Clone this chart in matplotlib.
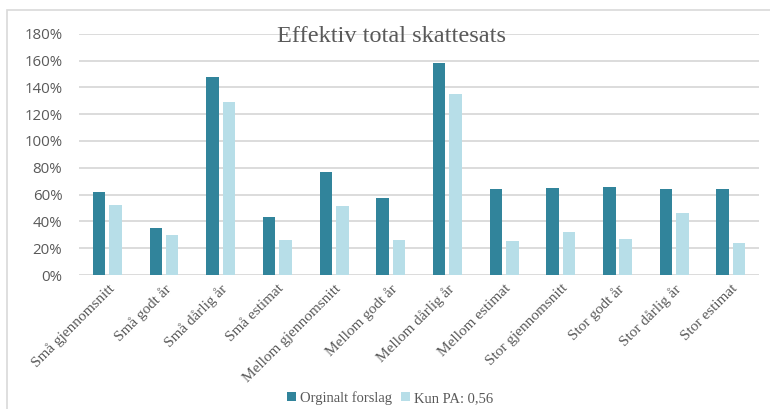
import numpy as np
import matplotlib.pyplot as plt
from matplotlib.patches import Rectangle
from matplotlib.ticker import PercentFormatter

categories = [
    "Små gjennomsnitt", "Små godt år", "Små dårlig år", "Små estimat",
    "Mellom gjennomsnitt", "Mellom godt år", "Mellom dårlig år", "Mellom estimat",
    "Stor gjennomsnitt", "Stor godt år", "Stor dårlig år", "Stor estimat",
]
orginalt = [0.62, 0.35, 1.48, 0.43, 0.77, 0.575, 1.58, 0.64, 0.65, 0.66, 0.64, 0.645]
kun_pa = [0.525, 0.30, 1.29, 0.26, 0.515, 0.26, 1.35, 0.25, 0.32, 0.265, 0.46, 0.24]
series_names = ["Orginalt forslag", "Kun PA: 0,56"]

DARK = "#31849B"
LIGHT = "#B7DEE8"
GRAY = "#595959"
GRID = "#D9D9D9"

fig = plt.figure(figsize=(7.7, 4.09), dpi=100)
ax = fig.add_axes([0.1026, 0.3276, 0.8834, 0.590])

x = np.arange(len(categories))
w = 0.22
ax.bar(x - 0.145, orginalt, w, color=DARK, label=series_names[0], zorder=3)
ax.bar(x + 0.145, kun_pa, w, color=LIGHT, label=series_names[1], zorder=3)

ax.set_xlim(-0.5, len(categories) - 0.5)
ax.set_ylim(0, 1.8)
ax.set_yticks(np.arange(0, 1.81, 0.2))
ax.yaxis.set_major_formatter(PercentFormatter(1.0, decimals=0))
ax.grid(axis="y", color=GRID, linewidth=1.3, zorder=0)
for s in ax.spines.values():
    s.set_visible(False)
ax.tick_params(length=0)
ax.tick_params(axis="y", labelsize=10.8, labelcolor=GRAY, pad=12)
for lbl in ax.get_yticklabels():
    lbl.set_fontfamily("Open Sans")

ax.set_xticks(x)
ax.set_xticklabels(categories, rotation=45, ha="right", rotation_mode="anchor",
                   fontfamily="Liberation Serif", fontsize=11, color=GRAY)
ax.tick_params(axis="x", pad=5)

fig.text(0.509, 0.91, "Effektiv total skattesats", ha="center", va="center",
         fontfamily="Liberation Serif", fontsize=17.5, color=GRAY)

leg = fig.legend(loc="center", bbox_to_anchor=(0.507, 0.027), ncol=2, frameon=False,
                 prop={"family": "Liberation Serif", "size": 10.5},
                 handlelength=0.6, handleheight=0.6, handletextpad=0.3, columnspacing=0.6)
for t in leg.get_texts():
    t.set_color(GRAY)

# outer chart frame
fig.patches.append(Rectangle((7 / 770, -0.1), 1.2, 1 - 10 / 409 + 0.1,
                             transform=fig.transFigure, fill=False,
                             edgecolor="#D9D9D9", linewidth=1.2))

fig.savefig("out.png", dpi=100)
